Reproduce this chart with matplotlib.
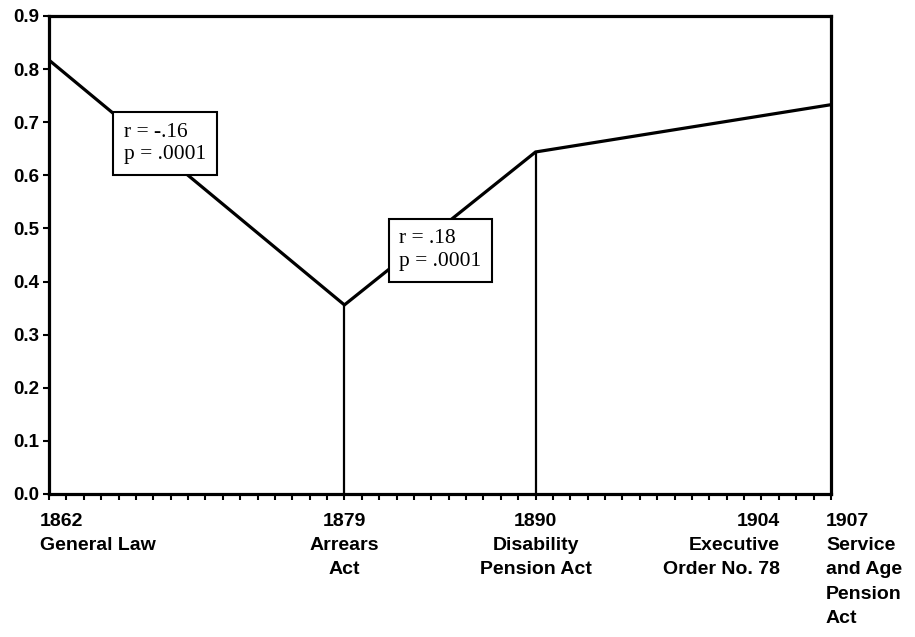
import matplotlib.pyplot as plt
import numpy as np

# Data
years = [1862, 1879, 1890, 1907]
values = [0.817, 0.356, 0.644, 0.733]
drop_years = [1879, 1890]
drop_values = [0.356, 0.644]
tick_years = [1862, 1879, 1890, 1904, 1907]
tick_labels = ["1862\nGeneral Law", "1879\nArrears\nAct", "1890\nDisability\nPension Act",
               "1904\nExecutive\nOrder No. 78", "1907\nService\nand Age\nPension\nAct"]
tick_align = ["left", "center", "center", "right", "left"]
tick_offset = [-0.52, 0, 0, 0.05, -0.29]
notes = ["r = -.16\np = .0001", "r = .18\np = .0001"]
note_pos = [(1868.68, 0.66), (1884.53, 0.459)]


def main():
    fig = plt.figure(figsize=(9.15, 6.37), dpi=100)
    ax = fig.add_axes([49 / 915, 143 / 637, 782 / 915, 478 / 637])

    ax.plot(years, values, color="black", lw=2.3, solid_joinstyle="miter")
    ax.vlines(drop_years, 0, drop_values, color="black", lw=1.6)

    ax.set_xlim(1862, 1907)
    ax.set_ylim(0, 0.9)
    yt = np.arange(0, 0.91, 0.1)
    ax.set_yticks(yt)
    ax.set_yticklabels([f"{v:.1f}" for v in yt],
                       fontfamily="Liberation Sans", fontweight="bold", fontsize=13.5)
    ax.set_xticks(np.arange(1862, 1908, 1))
    ax.set_xticklabels([])
    ax.tick_params(axis="both", direction="out", length=4, width=1.5, pad=3)
    for s in ax.spines.values():
        s.set_linewidth(2.3)

    # Year labels under the axis
    for yr, lab, ha, off in zip(tick_years, tick_labels, tick_align, tick_offset):
        ax.text(yr + off, -0.036, lab, ha=ha, va="top", multialignment=ha,
                fontfamily="Liberation Sans", fontweight="bold", fontsize=14,
                linespacing=1.55)

    for txt, (x, y) in zip(notes, note_pos):
        ax.text(x, y, txt, ha="center", va="center", multialignment="left",
                fontfamily="Liberation Serif", fontsize=15.5, linespacing=1.25,
                bbox=dict(boxstyle="square,pad=0.5", fc="white", ec="black", lw=1.5))

    fig.savefig("out.png", dpi=100)


if __name__ == "__main__":
    main()
